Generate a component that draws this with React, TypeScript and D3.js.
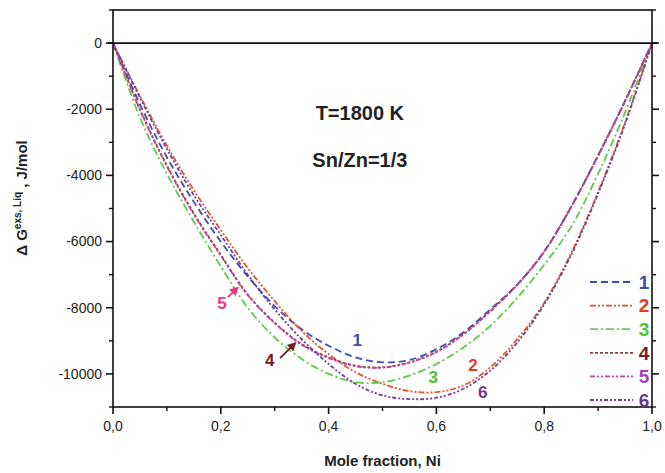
import React from 'react';
import * as d3 from 'd3';

// mole fraction of Ni where the curves were read
const niGrid = [0, 0.05, 0.1, 0.15, 0.2, 0.25, 0.3, 0.35, 0.4, 0.45, 0.5, 0.55, 0.6, 0.65, 0.7, 0.75, 0.8, 0.85, 0.9, 0.95, 1];

const curve1 = [0, -1850, -3450, -4800, -6000, -7050, -7950, -8650, -9150, -9500, -9650, -9580, -9250, -8750, -8050, -7300, -6300, -4950, -3400, -1750, 0];
const curve2 = [0, -1600, -3100, -4450, -5650, -6800, -7800, -8700, -9400, -9950, -10300, -10520, -10550, -10350, -9800, -8950, -7850, -6350, -4500, -2400, 0];
const curve3 = [0, -2250, -3950, -5400, -6750, -8000, -8900, -9550, -10000, -10250, -10250, -10050, -9700, -9200, -8550, -7700, -6700, -5550, -3950, -2100, 0];
const curve4 = [0, -2000, -3700, -5150, -6400, -7600, -8450, -9100, -9500, -9750, -9800, -9650, -9330, -8800, -8100, -7300, -6300, -4950, -3400, -1750, 0];
const curve5 = [0, -2020, -3730, -5180, -6430, -7620, -8470, -9120, -9520, -9770, -9810, -9660, -9340, -8810, -8110, -7310, -6310, -4960, -3410, -1760, 0];
const curve6 = [0, -1650, -3200, -4600, -5800, -7000, -8050, -8950, -9700, -10300, -10650, -10760, -10720, -10450, -9900, -9050, -7900, -6400, -4550, -2450, 0];

const seriesNames = ['1', '2', '3', '4', '5', '6'];
const seriesValues = [curve1, curve2, curve3, curve4, curve5, curve6];
const lineColors = ['#3d4fa8', '#e2542f', '#5ec94c', '#8e3c3c', '#c8449c', '#6f3d99'];
const labelColors = ['#3d4fa8', '#e63a22', '#4cc23a', '#7a1c1c', '#a443b8', '#6a3a92'];
const dashes = ['7,4', '6,2,2,2,2,2', '8,3,2,3', '3,2', '5,2,2,2,2,2', '4,2,2,2,2,2'];

const xTicks = [0, 0.2, 0.4, 0.6, 0.8, 1.0];
const xMinor = [0.1, 0.3, 0.5, 0.7, 0.9];
const yTicks = [0, -2000, -4000, -6000, -8000, -10000];
const yMinor = [1000, -1000, -3000, -5000, -7000, -9000, -11000];

// curve labels placed in data coordinates
const annotations = [
  { text: '1', ni: 0.453, g: -8980, color: '#3d4fa8' },
  { text: '2', ni: 0.668, g: -9730, color: '#e63a22' },
  { text: '3', ni: 0.594, g: -10100, color: '#4cc23a' },
  { text: '6', ni: 0.686, g: -10550, color: '#6a3a92' },
  { text: '4', ni: 0.291, g: -9580, color: '#7a1c1c' },
  { text: '5', ni: 0.202, g: -7860, color: '#e8367e' },
];
const arrows = [
  { from: [0.31, -9520], to: [0.338, -9070], color: '#7a1c1c' },
  { from: [0.213, -7680], to: [0.231, -7400], color: '#e8367e' },
];

const W = 665;
const H = 473;
const left = 113;
const right = 652;
const top = 10;
const bottom = 407;

export default function App() {
  const x = d3.scaleLinear().domain([0, 1]).range([left, right]);
  const y = d3.scaleLinear().domain([-11000, 1000]).range([bottom, top]);

  const line = d3.line<[number, number]>()
    .x(d => x(d[0]))
    .y(d => y(d[1]))
    .curve(d3.curveCatmullRom.alpha(0.5));

  const font = 'Liberation Sans, Arial, sans-serif';

  return (
    <div style={{ position: 'absolute', left: 0, top: 0 }}>
      <svg width={W} height={H} style={{ display: 'block', background: '#fff' }} fontFamily={font}>
        <defs>
          {arrows.map((a, i) => (
            <marker key={i} id={`arr${i}`} viewBox="0 0 10 10" refX="8" refY="5" markerWidth="5" markerHeight="5" orient="auto">
              <path d="M0,0 L10,5 L0,10 z" fill={a.color} />
            </marker>
          ))}
          <clipPath id="plot">
            <rect x={left} y={top} width={right - left} height={bottom - top} />
          </clipPath>
        </defs>

        {/* curves */}
        <g clipPath="url(#plot)" fill="none">
          {seriesValues.map((vals, i) => (
            <path key={i}
              d={line(niGrid.map((n, j) => [n, vals[j]]) as [number, number][]) || ''}
              stroke={lineColors[i]} strokeWidth={1.8} strokeDasharray={dashes[i]} />
          ))}
        </g>

        {/* zero line */}
        <line x1={left - 5} x2={right + 5} y1={y(0)} y2={y(0)} stroke="#111" strokeWidth={1.6} />

        {/* frame */}
        <rect x={left} y={top} width={right - left} height={bottom - top} fill="none" stroke="#111" strokeWidth={1.6} />

        {/* x axis ticks */}
        {xTicks.map(t => (
          <g key={t}>
            <line x1={x(t)} x2={x(t)} y1={bottom} y2={bottom + 7} stroke="#111" strokeWidth={1.6} />
            <text x={x(t)} y={bottom + 24} textAnchor="middle" fontSize={14} fill="#222">
              {d3.format('.1f')(t).replace('.', ',')}
            </text>
          </g>
        ))}
        {xMinor.map(t => (
          <line key={t} x1={x(t)} x2={x(t)} y1={bottom} y2={bottom + 4} stroke="#111" strokeWidth={1.4} />
        ))}

        {/* y axis ticks, left and right */}
        {yTicks.map(t => (
          <g key={t}>
            <line x1={left - 7} x2={left} y1={y(t)} y2={y(t)} stroke="#111" strokeWidth={1.6} />
            <line x1={right} x2={right + 7} y1={y(t)} y2={y(t)} stroke="#111" strokeWidth={1.6} />
            <text x={left - 11} y={y(t)} dy="0.35em" textAnchor="end" fontSize={14} fill="#222">{t}</text>
          </g>
        ))}
        {yMinor.map(t => (
          <g key={t}>
            <line x1={left - 4} x2={left} y1={y(t)} y2={y(t)} stroke="#111" strokeWidth={1.4} />
            <line x1={right} x2={right + 4} y1={y(t)} y2={y(t)} stroke="#111" strokeWidth={1.4} />
          </g>
        ))}

        {/* axis titles */}
        <text x={(left + right) / 2} y={466} textAnchor="middle" fontSize={15} fontWeight="bold" fill="#222">
          Mole fraction, Ni
        </text>
        <text transform={`translate(27,${198}) rotate(-90)`} textAnchor="middle" fontSize={15} fontWeight="bold" fill="#222">
          <tspan>Δ G</tspan>
          <tspan dy={-6} fontSize={10}>exs, Liq</tspan>
          <tspan dy={6}> , J/mol</tspan>
        </text>

        {/* conditions */}
        <text x={x(0.458)} y={y(-2120)} dy="0.35em" textAnchor="middle" fontSize={20} fontWeight="bold" fill="#222">T=1800 K</text>
        <text x={x(0.458)} y={y(-3540)} dy="0.35em" textAnchor="middle" fontSize={20} fontWeight="bold" fill="#222">Sn/Zn=1/3</text>

        {/* curve labels */}
        {annotations.map(a => (
          <text key={a.text} x={x(a.ni)} y={y(a.g)} dy="0.35em" textAnchor="middle" fontSize={17} fontWeight="bold" fill={a.color}>
            {a.text}
          </text>
        ))}
        {arrows.map((a, i) => (
          <line key={i} x1={x(a.from[0])} y1={y(a.from[1])} x2={x(a.to[0])} y2={y(a.to[1])}
            stroke={a.color} strokeWidth={1.8} markerEnd={`url(#arr${i})`} />
        ))}

        {/* legend */}
        {seriesNames.map((name, i) => {
          const ly = 282 + i * 23.6;
          return (
            <g key={name}>
              <line x1={590} x2={633} y1={ly} y2={ly} stroke={lineColors[i]} strokeWidth={1.8} strokeDasharray={dashes[i]} />
              <text x={644} y={ly} dy="0.36em" textAnchor="middle" fontSize={19} fontWeight="bold" fill={labelColors[i]}>{name}</text>
            </g>
          );
        })}
      </svg>
    </div>
  );
}
